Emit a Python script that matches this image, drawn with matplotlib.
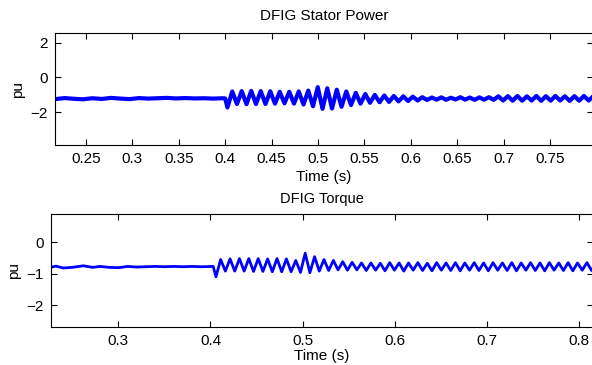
import numpy as np
import matplotlib
matplotlib.use("Agg")
import matplotlib.pyplot as plt

plt.rcParams['font.family'] = ['Liberation Sans', 'DejaVu Sans']

# ---- DFIG stator power (pu) ----
# steady part before the fault, read roughly every 10 ms
power_pre_t = [0.217, 0.227, 0.237, 0.247, 0.257, 0.267, 0.277, 0.287, 0.297,
               0.307, 0.317, 0.327, 0.337, 0.347, 0.357, 0.367, 0.377, 0.387,
               0.397, 0.4]
power_pre_v = [-1.24, -1.18, -1.22, -1.25, -1.19, -1.23, -1.17, -1.21, -1.24,
               -1.18, -1.21, -1.19, -1.17, -1.20, -1.18, -1.20, -1.19, -1.21,
               -1.19, -1.20]
# successive troughs / peaks after the fault (half a cycle apart)
power_ext_start = 0.4025
power_half_period = 0.00512
power_ext_v = [-1.72, -0.80, -1.52, -0.78, -1.53, -0.77, -1.52, -0.78, -1.52,
               -0.79, -1.50, -0.82, -1.48, -0.82, -1.50, -0.80, -1.55, -0.75,
               -1.65, -0.55, -1.80, -0.62, -1.78, -0.70, -1.68, -0.80, -1.58,
               -0.88, -1.50, -0.95, -1.45, -1.00, -1.42, -1.03, -1.40, -1.06,
               -1.37, -1.08, -1.35, -1.10, -1.32, -1.13, -1.29,
               -1.15, -1.27, -1.14, -1.28, -1.16, -1.26, -1.13, -1.27, -1.15,
               -1.28, -1.14, -1.27, -1.13, -1.28,
               -1.08, -1.32, -1.07, -1.33, -1.06, -1.33, -1.08, -1.32, -1.06,
               -1.34, -1.07, -1.33, -1.06, -1.32, -1.08, -1.34, -1.07, -1.33,
               -1.06, -1.32, -1.07]

# ---- DFIG torque (pu) ----
torque_pre_t = [0.2265, 0.232, 0.24, 0.25, 0.262, 0.272, 0.28, 0.29, 0.3,
                0.31, 0.32, 0.33, 0.34, 0.35, 0.36, 0.37, 0.38, 0.39, 0.403]
torque_pre_v = [-0.80, -0.76, -0.82, -0.80, -0.75, -0.80, -0.77, -0.80, -0.81,
                -0.77, -0.79, -0.78, -0.77, -0.78, -0.77, -0.78, -0.77, -0.78,
                -0.77]
torque_ext_start = 0.406
torque_half_period = 0.0051
torque_ext_v = [-1.10, -0.55, -0.92, -0.53, -0.92, -0.52, -0.92, -0.52, -0.93,
                -0.52, -0.93, -0.53, -0.94, -0.52, -0.94, -0.53, -0.94, -0.58,
                -0.96, -0.35, -0.97, -0.46, -0.92, -0.55, -0.90, -0.58, -0.88,
                -0.62, -0.89, -0.64, -0.88, -0.66,
                -0.90, -0.66, -0.89, -0.67, -0.91, -0.65, -0.89, -0.66, -0.92,
                -0.66, -0.89, -0.65, -0.90, -0.67, -0.91, -0.65, -0.89, -0.66,
                -0.90, -0.65, -0.91, -0.66, -0.89, -0.65, -0.90, -0.66, -0.91,
                -0.65, -0.89, -0.66, -0.90, -0.65, -0.91, -0.66, -0.89, -0.65,
                -0.90, -0.66, -0.91, -0.65, -0.89, -0.66, -0.90, -0.65, -0.91,
                -0.66, -0.89, -0.65, -0.90, -0.66]

power_xticks = [0.25, 0.3, 0.35, 0.4, 0.45, 0.5, 0.55, 0.6, 0.65, 0.7, 0.75]
power_yticks = [-2, 0, 2]
torque_xticks = [0.3, 0.4, 0.5, 0.6, 0.7, 0.8]
torque_yticks = [-2, -1, 0]


def series(pre_t, pre_v, start, step, ext_v):
    ext_t = start + step * np.arange(len(ext_v))
    return np.concatenate([pre_t, ext_t]), np.concatenate([pre_v, ext_v])


def style(ax, xticks, yticks):
    ax.set_xticks(xticks)
    ax.set_xticklabels([f"{v:g}" for v in xticks])
    ax.set_yticks(yticks)
    ax.tick_params(direction='in', length=4, width=0.8, labelsize=11,
                   top=True, right=True, pad=5)
    for s in ax.spines.values():
        s.set_linewidth(0.8)


fig = plt.figure(figsize=(5.92, 3.65), dpi=100)

ax1 = fig.add_axes([55 / 592, 1 - 145 / 365, 538 / 592, 112 / 365])
t, v = series(power_pre_t, power_pre_v, power_ext_start, power_half_period, power_ext_v)
ax1.plot(t, v, color=(0, 0, 1), lw=3.0, solid_joinstyle='round')
ax1.set_xlim(0.2167, 0.7963)
ax1.set_ylim(-3.87, 2.55)
style(ax1, power_xticks, power_yticks)
ax1.set_title("DFIG Stator Power", fontsize=11, pad=9)
ax1.set_xlabel("Time (s)", fontsize=11, labelpad=3)
ax1.set_ylabel("pu", fontsize=11, labelpad=4)

ax2 = fig.add_axes([50.7 / 592, 1 - 327 / 365, 542.3 / 592, 113 / 365])
t, v = series(torque_pre_t, torque_pre_v, torque_ext_start, torque_half_period, torque_ext_v)
ax2.plot(t, v, color=(0, 0, 1), lw=2.0, solid_joinstyle='round')
ax2.set_xlim(0.2265, 0.8155)
ax2.set_ylim(-2.7, 0.9)
style(ax2, torque_xticks, torque_yticks)
ax2.set_title("DFIG Torque", fontsize=10.5, pad=8)
ax2.set_xlabel("Time (s)", fontsize=11, labelpad=1)
ax2.set_ylabel("pu", fontsize=11, labelpad=4)

fig.savefig("out.png", dpi=100)
